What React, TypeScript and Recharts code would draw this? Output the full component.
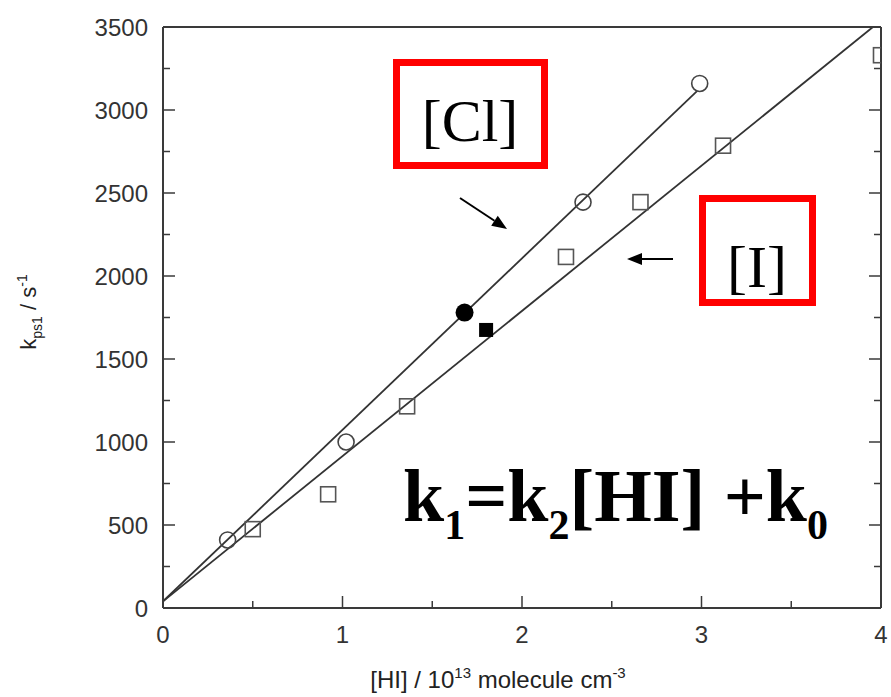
import * as React from 'react';
import { ComposedChart, XAxis, YAxis, Line, Scatter } from 'recharts';

// [Cl] series (open circles + one filled)
const clOpenX = [0.36, 1.02, 2.34, 2.99];
const clOpenY = [410, 1000, 2445, 3160];
const clFilledX = [1.68];
const clFilledY = [1780];

// [I] series (open squares + one filled)
const iOpenX = [0.5, 0.92, 1.36, 2.245, 2.66, 3.12, 4.0];
const iOpenY = [475, 685, 1215, 2115, 2445, 2785, 3330];
const iFilledX = [1.8];
const iFilledY = [1675];

// fitted lines (end points)
const clFitX = [0, 2.975];
const clFitY = [40, 3114];
const iFitX = [0, 3.955];
const iFitY = [40, 3500];

const xTicks = [0, 0.5, 1, 1.5, 2, 2.5, 3, 3.5, 4];
const xLabeled = [0, 1, 2, 3, 4];
const yTicks = [0, 250, 500, 750, 1000, 1250, 1500, 1750, 2000, 2250, 2500, 2750, 3000, 3250, 3500];
const yLabeled = [0, 500, 1000, 1500, 2000, 2500, 3000, 3500];

const zip = (xs: number[], ys: number[]) => xs.map((x, i) => ({ x, y: ys[i] }));

const AXIS = '#3a3a3a';
const SANS = '"Liberation Sans", Arial, sans-serif';
const SERIF = '"Liberation Serif", "Times New Roman", serif';

function LeftTick({ x, y, payload }: any) {
  const major = yLabeled.includes(payload.value);
  return (
    <g>
      <line x1={x} y1={y} x2={x + (major ? 12 : 7)} y2={y} stroke={AXIS} strokeWidth={1.5} />
      {major && (
        <text x={x - 15} y={y} textAnchor="end" dominantBaseline="central" fontSize={24} fontFamily={SANS} fill="#333">
          {payload.value}
        </text>
      )}
    </g>
  );
}

function RightTick({ x, y, payload }: any) {
  const major = yLabeled.includes(payload.value);
  return <line x1={x} y1={y} x2={x - (major ? 12 : 7)} y2={y} stroke={AXIS} strokeWidth={1.5} />;
}

function BottomTick({ x, y, payload }: any) {
  const major = xLabeled.includes(payload.value);
  return (
    <g>
      <line x1={x} y1={y} x2={x} y2={y - (major ? 12 : 7)} stroke={AXIS} strokeWidth={1.5} />
      {major && (
        <text x={x} y={y + 26} textAnchor="middle" dominantBaseline="central" fontSize={24} fontFamily={SANS} fill="#333">
          {payload.value}
        </text>
      )}
    </g>
  );
}

function TopTick({ x, y, payload }: any) {
  const major = xLabeled.includes(payload.value);
  return <line x1={x} y1={y} x2={x} y2={y + (major ? 12 : 7)} stroke={AXIS} strokeWidth={1.5} />;
}

const openCircle = (p: any) => (
  <circle cx={p.cx} cy={p.cy} r={8} fill="none" stroke="#444" strokeWidth={1.6} />
);
const filledCircle = (p: any) => <circle cx={p.cx} cy={p.cy} r={9} fill="#000" />;
const openSquare = (p: any) => (
  <rect x={p.cx - 7.5} y={p.cy - 7.5} width={15} height={15} fill="none" stroke="#555" strokeWidth={1.6} />
);
const filledSquare = (p: any) => <rect x={p.cx - 7} y={p.cy - 7} width={14} height={14} fill="#000" />;

function Arrow({ x1, y1, x2, y2 }: { x1: number; y1: number; x2: number; y2: number }) {
  const dx = x2 - x1;
  const dy = y2 - y1;
  const len = Math.hypot(dx, dy);
  const ux = dx / len;
  const uy = dy / len;
  const hl = 15;
  const hw = 6;
  const bx = x2 - ux * hl;
  const by = y2 - uy * hl;
  const pts = `${x2},${y2} ${bx - uy * hw},${by + ux * hw} ${bx + uy * hw},${by - ux * hw}`;
  return (
    <g>
      <line x1={x1} y1={y1} x2={bx} y2={by} stroke="#000" strokeWidth={2} />
      <polygon points={pts} fill="#000" />
    </g>
  );
}

export default function App() {
  return (
    <div style={{ position: 'absolute', left: 0, top: 0, width: 891, height: 697, background: '#fff' }}>
      <ComposedChart width={891} height={697} margin={{ top: 0, right: 0, bottom: 0, left: 0 }}>
        <XAxis
          xAxisId="b"
          dataKey="x"
          type="number"
          domain={[0, 4]}
          ticks={xTicks}
          interval={0}
          allowDataOverflow
          height={89}
          tickSize={0}
          tickMargin={0}
          tickLine={false}
          tick={BottomTick}
          axisLine={{ stroke: AXIS, strokeWidth: 2 }}
        />
        <XAxis
          xAxisId="t"
          orientation="top"
          type="number"
          domain={[0, 4]}
          ticks={xTicks}
          interval={0}
          allowDataOverflow
          height={27}
          tickSize={0}
          tickMargin={0}
          tickLine={false}
          tick={TopTick}
          axisLine={{ stroke: AXIS, strokeWidth: 2 }}
        />
        <YAxis
          yAxisId="l"
          type="number"
          domain={[0, 3500]}
          ticks={yTicks}
          interval={0}
          allowDataOverflow
          width={163}
          tickSize={0}
          tickMargin={0}
          tickLine={false}
          tick={LeftTick}
          axisLine={{ stroke: AXIS, strokeWidth: 2 }}
        />
        <YAxis
          yAxisId="r"
          orientation="right"
          type="number"
          domain={[0, 3500]}
          ticks={yTicks}
          interval={0}
          allowDataOverflow
          width={10}
          tickSize={0}
          tickMargin={0}
          tickLine={false}
          tick={RightTick}
          axisLine={{ stroke: AXIS, strokeWidth: 2 }}
        />
        <Line
          xAxisId="b"
          yAxisId="l"
          data={zip(clFitX, clFitY)}
          dataKey="y"
          type="linear"
          stroke="#333"
          strokeWidth={1.8}
          dot={false}
          activeDot={false}
          isAnimationActive={false}
        />
        <Line
          xAxisId="b"
          yAxisId="l"
          data={zip(iFitX, iFitY)}
          dataKey="y"
          type="linear"
          stroke="#333"
          strokeWidth={1.8}
          dot={false}
          activeDot={false}
          isAnimationActive={false}
        />
        <Scatter xAxisId="b" yAxisId="l" data={zip(clOpenX, clOpenY)} dataKey="y" shape={openCircle} isAnimationActive={false} />
        <Scatter xAxisId="b" yAxisId="l" data={zip(clFilledX, clFilledY)} dataKey="y" shape={filledCircle} isAnimationActive={false} />
        <Scatter xAxisId="b" yAxisId="l" data={zip(iOpenX, iOpenY)} dataKey="y" shape={openSquare} isAnimationActive={false} />
        <Scatter xAxisId="b" yAxisId="l" data={zip(iFilledX, iFilledY)} dataKey="y" shape={filledSquare} isAnimationActive={false} />
      </ComposedChart>
      <svg
        width={891}
        height={697}
        style={{ position: 'absolute', left: 0, top: 0, pointerEvents: 'none' }}
      >
        {/* axis titles */}
        <text
          transform="translate(36,312) rotate(-90)"
          textAnchor="middle"
          fontSize={22}
          fontFamily={SANS}
          fill="#222"
        >
          k<tspan fontSize={14} dy={6}>ps1</tspan>
          <tspan dy={-6}> / s</tspan>
          <tspan fontSize={14} dy={-9}>-1</tspan>
        </text>
        <text x={498} y={688} textAnchor="middle" fontSize={24} fontFamily={SANS} fill="#222">
          [HI] / 10<tspan fontSize={15} dy={-10}>13</tspan>
          <tspan dy={10}> molecule cm</tspan>
          <tspan fontSize={15} dy={-10}>-3</tspan>
        </text>

        {/* annotations */}
        <rect x={396.5} y={62.5} width={148} height={103} fill="none" stroke="#ff0000" strokeWidth={7} />
        <text x={470} y={141} textAnchor="middle" fontSize={60} fontFamily={SERIF} fill="#000">
          [Cl]
        </text>
        <rect x={702.5} y={198.5} width={110} height={104} fill="none" stroke="#ff0000" strokeWidth={7} />
        <text x={757} y={287} textAnchor="middle" fontSize={60} fontFamily={SERIF} fill="#000">
          [I]
        </text>
        <Arrow x1={460} y1={198} x2={507} y2={229} />
        <Arrow x1={673} y1={259} x2={627} y2={259} />

        <text x={403} y={521} fontSize={74} fontWeight="bold" fontFamily={SERIF} fill="#000">
          k<tspan fontSize={42} dy={18}>1</tspan>
          <tspan dy={-18}>=k</tspan>
          <tspan fontSize={42} dy={18}>2</tspan>
          <tspan dy={-18}>[HI] +k</tspan>
          <tspan fontSize={42} dy={18}>0</tspan>
        </text>
      </svg>
    </div>
  );
}
